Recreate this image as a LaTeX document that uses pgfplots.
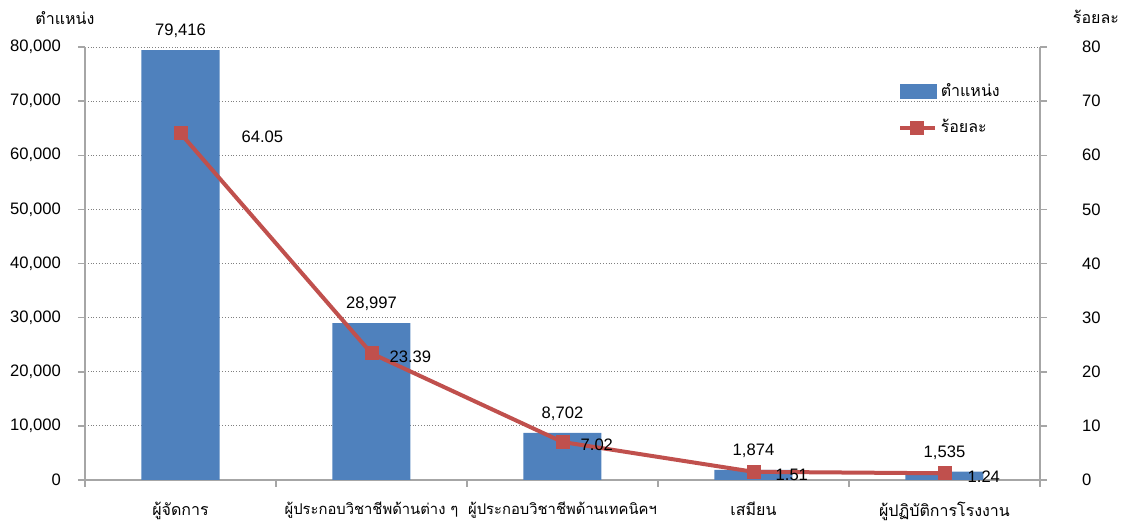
\documentclass[border=0pt]{standalone}
\usepackage{fontspec}
\setmainfont{Liberation Sans}
\newfontfamily\thai[Script=Thai]{Loma}
\usepackage{pgfplots}
\usepackage{pgfplotstable}
\pgfplotsset{compat=1.18}
\definecolor{barblue}{HTML}{4F81BD}
\definecolor{linered}{HTML}{C0504D}
\definecolor{axgray}{HTML}{A6A6A6}

% percent series, dx = label offset to the right of the point
\pgfplotstableread{
x y lab dx
0 64.05 64.05 27
1 23.39 23.39 5.5
2 7.02 7.02 5.5
3 1.51 1.51 7.5
4 1.24 1.24 8
}\pcttable

\begin{document}
\begin{tikzpicture}
\pgfplotsset{
  base/.style={
    at={(0,0)}, anchor=south west,
    scale only axis, width=477.5pt, height=216.5pt,
    xmin=-0.5, xmax=4.5, ymin=0,
    font=\fontsize{8.3}{10}\selectfont,
    tick align=outside, major tick length=3.5pt,
    tick style={axgray, line width=0.75pt},
    axis line style={axgray, line width=0.75pt},
    /pgf/number format/assume math mode=true,
    scaled y ticks=false,
    /pgf/number format/1000 sep={,},
  },
}
\begin{axis}[
  base,
  ymax=80000,
  axis x line*=bottom, axis y line*=left,
  ytick={0,10000,...,80000},
  yticklabel style={xshift=-5pt},
  ymajorgrids, grid style={densely dotted, gray, line width=0.5pt},
  xtick={-0.5,0.5,1.5,2.5,3.5,4.5},
  xticklabels={{\thai ผู้จัดการ},{\thai\fontsize{7.4}{10}\selectfont ผู้ประกอบวิชาชีพด้านต่าง ๆ},{\thai\fontsize{7.4}{10}\selectfont ผู้ประกอบวิชาชีพด้านเทคนิคฯ},{\thai เสมียน},{\thai ผู้ปฏิบัติการโรงงาน},{}},
  xticklabel style={xshift=47.75pt, yshift=-4pt, font=\fontsize{8}{10}\selectfont},
  ylabel={\thai ตำแหน่ง},
  ylabel style={rotate=-90, at={(rel axis cs:-0.021,1.067)}, anchor=center, font=\fontsize{8}{10}\selectfont},
]
\addplot[ybar, bar width=39pt, fill=barblue, draw=none,
  nodes near coords, nodes near coords style={black, yshift=2.5pt}]
  coordinates {(0,79416) (1,28997) (2,8702) (3,1874) (4,1535)};
\end{axis}
\begin{axis}[
  base,
  ymax=80,
  axis x line=none, axis y line*=right,
  ytick={0,10,...,80},
  yticklabel style={xshift=14pt},
  ylabel={\thai ร้อยละ},
  ylabel style={rotate=-90, at={(rel axis cs:1.0586,1.069)}, anchor=center, font=\fontsize{8}{10}\selectfont},
  legend cell align=left,
  legend style={at={(0.845,0.935)}, anchor=north west, draw=none, fill=none,
    font=\thai\fontsize{8}{10}\selectfont, row sep=6pt},
]
\addlegendimage{legend image code/.code={\fill[barblue] (0pt,-3.5pt) rectangle (18pt,3.5pt);}}
\addlegendentry{ตำแหน่ง}
\addplot[linered, line width=2pt, mark=square*, mark size=3.25pt,
  mark options={fill=linered, draw=linered, line width=0.5pt},
  nodes near coords, point meta=explicit symbolic,
  visualization depends on={\thisrow{dx} \as \dx},
  nodes near coords style={black, anchor=west, xshift=\dx pt, yshift=-1.5pt}]
  table[x=x, y=y, meta=lab] {\pcttable};
\addlegendentry{ร้อยละ}
\end{axis}
\pgfresetboundingbox
\path[use as bounding box] (-42.5pt,-24.5pt) rectangle (519.5pt,240pt);
\end{tikzpicture}
\end{document}
